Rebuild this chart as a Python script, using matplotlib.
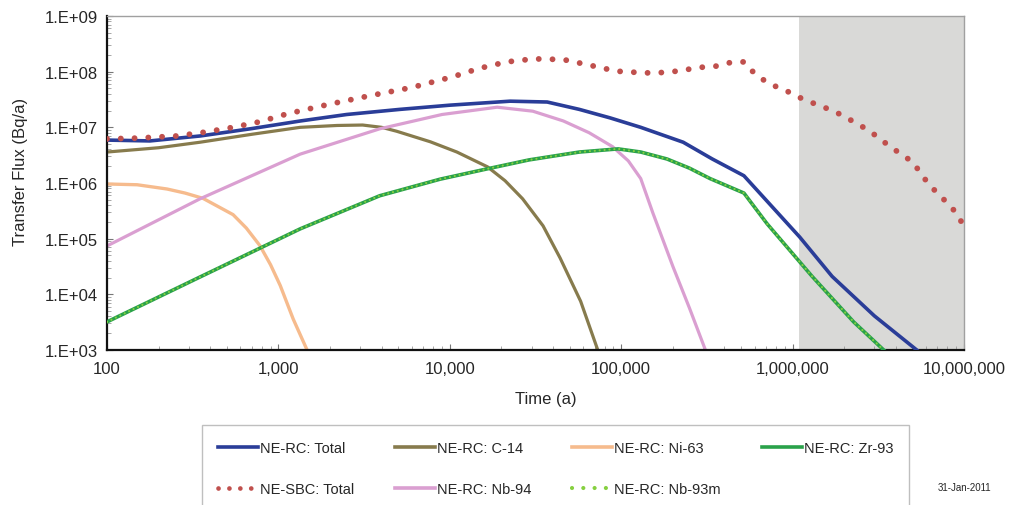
import math
import matplotlib
matplotlib.use("Agg")
import matplotlib.pyplot as plt
from matplotlib.lines import Line2D
from matplotlib.ticker import FuncFormatter, LogLocator, NullFormatter

plt.rcParams['font.family'] = ['Liberation Sans', 'DejaVu Sans']

# ---- data: time (a) and transfer flux (Bq/a) ----
RC_TOTAL_T = [100, 178, 350, 700, 1340, 2500, 5100, 10000, 22500, 37000,
              57000, 86000, 130000, 230000, 340000, 520000, 1.1e6, 1.7e6,
              3.0e6, 5.3e6]
RC_TOTAL_F = [5.9e6, 5.7e6, 7.0e6, 9.5e6, 1.3e7, 1.7e7, 2.1e7, 2.5e7, 2.95e7,
              2.85e7, 2.1e7, 1.48e7, 1.0e7, 5.4e6, 2.7e6, 1.35e6, 1.07e5,
              2.1e4, 4.1e3, 1.0e3]

SBC_TOTAL_T = [100, 150, 256, 383, 544, 780, 1120, 1980, 3420, 6000, 10400,
               14900, 21500, 31000, 46000, 66000, 94000, 138000, 168000,
               200000, 245000, 295000, 360000, 430000, 520000, 590000, 690000,
               820000, 970000, 1.15e6, 1.37e6, 1.64e6, 1.94e6, 2.27e6, 2.7e6,
               3.1e6, 3.67e6, 4.3e6, 5.0e6, 5.6e6, 6.2e6, 7.1e6, 8.1e6, 9.2e6,
               1.0e7]
SBC_TOTAL_F = [6.2e6, 6.4e6, 7.0e6, 8.3e6, 1.0e7, 1.26e7, 1.74e7, 2.6e7,
               3.7e7, 5.2e7, 8.1e7, 1.15e8, 1.5e8, 1.7e8, 1.65e8, 1.3e8,
               1.02e8, 9.5e7, 9.6e7, 1.0e8, 1.1e8, 1.2e8, 1.26e8, 1.45e8,
               1.5e8, 9.8e7, 6.8e7, 5.2e7, 4.2e7, 3.2e7, 2.6e7, 2.1e7, 1.66e7,
               1.26e7, 9.3e6, 6.9e6, 4.6e6, 3.3e6, 2.4e6, 1.5e6, 9.6e5, 6.3e5,
               4.2e5, 2.7e5, 1.6e5]

C14_T = [100, 200, 349, 700, 1340, 2200, 3100, 4000, 4900, 7700, 11000,
         16600, 21000, 26600, 35000, 44000, 58000, 73000]
C14_F = [3.6e6, 4.3e6, 5.4e6, 7.5e6, 1.0e7, 1.08e7, 1.1e7, 1.0e7, 8.5e6,
         5.5e6, 3.6e6, 1.95e6, 1.1e6, 5.2e5, 1.7e5, 4.5e4, 7.5e3, 1.0e3]

NI63_T = [100, 150, 224, 285, 363, 544, 650, 780, 900, 1025, 1220, 1470]
NI63_F = [9.6e5, 9.3e5, 7.8e5, 6.6e5, 5.3e5, 2.7e5, 1.55e5, 7.5e4, 3.4e4,
          1.44e4, 3.6e3, 1.0e3]

NB94_T = [100, 349, 1340, 3900, 9000, 18900, 30500, 46000, 65000, 89000,
          110000, 130000, 153000, 200000, 250000, 310000]
NB94_F = [7.4e4, 5.2e5, 3.3e6, 9.4e6, 1.7e7, 2.3e7, 1.95e7, 1.3e7, 8.0e6,
          4.5e6, 2.5e6, 1.2e6, 2.9e5, 3.2e4, 5.7e3, 1.0e3]

ZR93_T = [100, 349, 1340, 3900, 8770, 16600, 29000, 57000, 96000, 130000,
          185000, 250000, 330000, 520000, 710000, 1.3e6, 2.27e6, 3.4e6]
ZR93_F = [3.2e3, 2.05e4, 1.5e5, 5.9e5, 1.17e6, 1.8e6, 2.6e6, 3.6e6, 4.1e6,
          3.6e6, 2.7e6, 1.85e6, 1.2e6, 6.6e5, 1.85e5, 2.1e4, 3.2e3, 1.0e3]

# Nb-93m is in secular equilibrium with Zr-93: same curve
NB93M_T = ZR93_T
NB93M_F = ZR93_F

LABELS = ['NE-RC: Total', 'NE-SBC: Total', 'NE-RC: C-14', 'NE-RC: Nb-94',
          'NE-RC: Ni-63', 'NE-RC: Nb-93m', 'NE-RC: Zr-93']
X_TICKS = [1e2, 1e3, 1e4, 1e5, 1e6, 1e7]
Y_TICKS = [1e3, 1e4, 1e5, 1e6, 1e7, 1e8, 1e9]
SHADE_START = 1.09e6
DATE_TEXT = '31-Jan-2011'

C_BLUE = '#2a3d98'
C_RED = '#c0504d'
C_OLIVE = '#877b4d'
C_PINK = '#da9fd1'
C_PEACH = '#f6bb8d'
C_GREEN = '#2aa24a'
C_LGREEN = '#86d040'
TXT = '#262626'

fig = plt.figure(figsize=(10.09, 5.06), dpi=100)
ax = fig.add_axes([107 / 1009, 1 - 351 / 506, 857 / 1009, 334 / 506])

ax.axvspan(SHADE_START, 1e7, color='#d9d9d7', zorder=0, lw=0)

ax.plot(NI63_T, NI63_F, color=C_PEACH, lw=2.4, zorder=2)
ax.plot(C14_T, C14_F, color=C_OLIVE, lw=2.3, zorder=2)
ax.plot(NB94_T, NB94_F, color=C_PINK, lw=2.3, zorder=2)
ax.plot(ZR93_T, ZR93_F, color=C_GREEN, lw=2.6, zorder=3)
ax.plot(NB93M_T, NB93M_F, color=C_LGREEN, lw=1.6, zorder=4,
        linestyle=(0, (0.01, 2.2)), dash_capstyle='round')
ax.plot(RC_TOTAL_T, RC_TOTAL_F, color=C_BLUE, lw=2.6, zorder=5)
ax.plot(SBC_TOTAL_T, SBC_TOTAL_F, color=C_RED, lw=4.2, zorder=6,
        linestyle=(0, (0.01, 2.35)), dash_capstyle='round')

ax.set_xscale('log')
ax.set_yscale('log')
ax.set_xlim(1e2, 1e7)
ax.set_ylim(1e3, 1e9)
ax.set_xticks(X_TICKS)
ax.set_yticks(Y_TICKS)
ax.xaxis.set_major_formatter(FuncFormatter(lambda v, p: f'{int(round(v)):,}'))
ax.yaxis.set_major_formatter(
    FuncFormatter(lambda v, p: f'1.E+{int(round(math.log10(v))):02d}'))
ax.xaxis.set_minor_locator(LogLocator(base=10, subs=range(2, 10), numticks=20))
ax.yaxis.set_minor_locator(LogLocator(base=10, subs=range(2, 10), numticks=20))
ax.xaxis.set_minor_formatter(NullFormatter())
ax.yaxis.set_minor_formatter(NullFormatter())
ax.tick_params(which='major', direction='in', length=4, width=0.8,
               colors='#777777', labelcolor=TXT, labelsize=12, pad=8)
ax.tick_params(which='minor', direction='in', length=3, width=0.6,
               colors='#999999')
ax.tick_params(axis='y', which='major', pad=6.5)

for side in ('left', 'bottom'):
    ax.spines[side].set_color('#111111')
    ax.spines[side].set_linewidth(1.6)
for side in ('top', 'right'):
    ax.spines[side].set_color('#a0a0a0')
    ax.spines[side].set_linewidth(1.0)

ax.set_xlabel('Time (a)', fontsize=12, color=TXT)
ax.set_ylabel('Transfer Flux (Bq/a)', fontsize=12, color=TXT)
ax.xaxis.set_label_coords(0.512, -0.123)
ax.yaxis.set_label_coords(-0.092, 0.535)

handles = [
    Line2D([], [], color=C_BLUE, lw=2.6),
    Line2D([], [], color=C_RED, lw=3.4, linestyle=(0, (0.01, 2.3)),
           dash_capstyle='round'),
    Line2D([], [], color=C_OLIVE, lw=2.6),
    Line2D([], [], color=C_PINK, lw=2.6),
    Line2D([], [], color=C_PEACH, lw=2.6),
    Line2D([], [], color=C_LGREEN, lw=3.0, linestyle=(0, (0.01, 2.7)),
           dash_capstyle='round'),
    Line2D([], [], color=C_GREEN, lw=2.6),
]
leg = fig.legend(handles, LABELS, ncol=4, loc='upper left',
                 bbox_to_anchor=(202 / 1009, 1 - 426 / 506),
                 frameon=True, fancybox=False, edgecolor='#b0b0b0',
                 handlelength=2.74, handletextpad=0.14, columnspacing=2.8,
                 borderpad=1.1, labelspacing=1.85, borderaxespad=0,
                 fontsize=10.5)
leg.get_frame().set_linewidth(1.0)
for t in leg.get_texts():
    t.set_color(TXT)

fig.text(964 / 1009, 1 - 488 / 506, DATE_TEXT, fontsize=7, color=TXT,
         ha='center', va='center')

fig.savefig('out.png', dpi=100)
